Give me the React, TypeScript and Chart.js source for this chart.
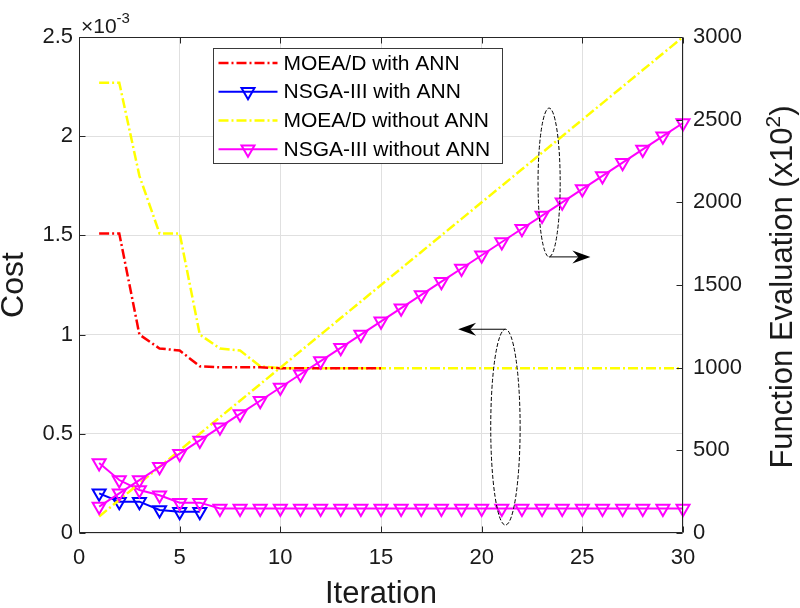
import React, { useEffect, useRef } from "react";
import { Chart, registerables } from "chart.js";

Chart.register(...registerables);

// ---------------- data ----------------
const iterations = [
  1, 2, 3, 4, 5, 6, 7, 8, 9, 10, 11, 12, 13, 14, 15,
  16, 17, 18, 19, 20, 21, 22, 23, 24, 25, 26, 27, 28, 29, 30,
];

const seriesLabels = [
  "MOEA/D with ANN",
  "NSGA-III with ANN",
  "MOEA/D without ANN",
  "NSGA-III without ANN",
];

// Cost values in units of ×10^-3 (left axis)
const costMoeadWithAnn = [
  1.51, 1.51, 1.0, 0.93, 0.92, 0.84, 0.835, 0.835, 0.835, 0.83, 0.83, 0.83, 0.83, 0.83, 0.83,
];
const costNsgaWithAnn = [0.2, 0.158, 0.158, 0.116, 0.107, 0.107];
const costMoeadWithoutAnn = [
  2.27, 2.27, 1.8, 1.51, 1.51, 1.0, 0.93, 0.92, 0.84, 0.83,
  0.83, 0.83, 0.83, 0.83, 0.83, 0.83, 0.83, 0.83, 0.83, 0.83,
  0.83, 0.83, 0.83, 0.83, 0.83, 0.83, 0.83, 0.83, 0.83, 0.83,
];
const costNsgaWithoutAnn = [
  0.353, 0.267, 0.217, 0.19, 0.153, 0.153, 0.124, 0.124, 0.124, 0.124,
  0.124, 0.124, 0.124, 0.124, 0.124, 0.124, 0.124, 0.124, 0.124, 0.124,
  0.124, 0.124, 0.124, 0.124, 0.124, 0.124, 0.124, 0.124, 0.124, 0.124,
];

// Function evaluations in units of ×10^2 (right axis)
const feMoeadWithoutAnn = [
  100, 200, 300, 400, 500, 600, 700, 800, 900, 1000,
  1100, 1200, 1300, 1400, 1500, 1600, 1700, 1800, 1900, 2000,
  2100, 2200, 2300, 2400, 2500, 2600, 2700, 2800, 2900, 3000,
];
const feNsgaWithoutAnn = [
  160, 240, 320, 400, 480, 560, 640, 720, 800, 880,
  960, 1040, 1120, 1200, 1280, 1360, 1440, 1520, 1600, 1680,
  1760, 1840, 1920, 2000, 2080, 2160, 2240, 2320, 2400, 2480,
];

const xTickValues = [0, 5, 10, 15, 20, 25, 30];
const costTickValues = [0, 0.5, 1, 1.5, 2, 2.5];
const feTickValues = [0, 500, 1000, 1500, 2000, 2500, 3000];

const xTitle = "Iteration";
const yTitle = "Cost";
const y2TitleParts = ["Function Evaluation (x10", "2", ")"];
const exponentParts = ["\u00d710", "-3"];

// annotation ellipses (data coordinates)
const annotations = [
  { axis: "y2", x: 23.35, halfWidth: 0.55, yTop: 2570, yBottom: 1670, arrowFrom: "bottom", arrowToX: 25.4 },
  { axis: "y", x: 21.18, halfWidth: 0.73, yTop: 1.027, yBottom: 0.04, arrowFrom: "top", arrowToX: 18.83 },
];

// ---------------- styles ----------------
const FONT = "'Liberation Sans', Arial, Helvetica, sans-serif";
const TEXT = "#1a1a1a";
const AXIS = "#262626";
const GRID = "#e0e0e0";
const RED = "#ff0000";
const BLUE = "#0000ff";
const YELLOW = "#ffff00";
const MAGENTA = "#ff00ff";
const DASH_DOT = [10, 3, 2, 3];

const pts = (vals: number[]) => vals.map((v, i) => ({ x: iterations[i], y: v }));

const triangleOpts = (color: string) => ({
  pointStyle: "triangle",
  pointRotation: 180,
  pointRadius: 7.5,
  pointHoverRadius: 7.5,
  pointBorderColor: color,
  pointBorderWidth: 2,
  pointBackgroundColor: "rgba(0,0,0,0)",
});

function drawTriangleDown(ctx: CanvasRenderingContext2D, x: number, y: number, r: number) {
  ctx.beginPath();
  for (let k = 0; k < 3; k++) {
    const a = Math.PI + (k * 2 * Math.PI) / 3;
    const px = x + Math.sin(a) * r;
    const py = y - Math.cos(a) * r;
    if (k === 0) ctx.moveTo(px, py);
    else ctx.lineTo(px, py);
  }
  ctx.closePath();
  ctx.stroke();
}

const decorPlugin = {
  id: "matlabDecor",
  afterDatasetsDraw(chart: any) {
    const ctx: CanvasRenderingContext2D = chart.ctx;
    const xs = chart.scales.x;
    for (const a of annotations) {
      const ys = chart.scales[a.axis];
      const cx = xs.getPixelForValue(a.x);
      const rx = xs.getPixelForValue(a.x + a.halfWidth) - cx;
      const yT = ys.getPixelForValue(a.yTop);
      const yB = ys.getPixelForValue(a.yBottom);
      const cy = (yT + yB) / 2;
      const ry = (yB - yT) / 2;
      ctx.save();
      ctx.strokeStyle = "#000";
      ctx.lineWidth = 1;
      ctx.setLineDash([4, 2]);
      ctx.beginPath();
      ctx.ellipse(cx, cy, rx, ry, 0, 0, Math.PI * 2);
      ctx.stroke();
      ctx.setLineDash([]);
      const ay = a.arrowFrom === "top" ? yT : yB;
      const ax2 = xs.getPixelForValue(a.arrowToX);
      const dir = Math.sign(ax2 - cx);
      ctx.beginPath();
      ctx.moveTo(cx, ay);
      ctx.lineTo(ax2 - dir * 8, ay);
      ctx.stroke();
      const L = 18, W = 6.5, notch = 12;
      ctx.fillStyle = "#000";
      ctx.beginPath();
      ctx.moveTo(ax2, ay);
      ctx.lineTo(ax2 - dir * L, ay - W);
      ctx.lineTo(ax2 - dir * notch, ay);
      ctx.lineTo(ax2 - dir * L, ay + W);
      ctx.closePath();
      ctx.fill();
      ctx.restore();
    }
  },
  afterDraw(chart: any) {
    const ctx: CanvasRenderingContext2D = chart.ctx;
    const { left, right, top, bottom } = chart.chartArea;
    const xs = chart.scales.x;
    const yl = chart.scales.y;
    const yr = chart.scales.y2;
    ctx.save();
    // box
    ctx.strokeStyle = AXIS;
    ctx.lineWidth = 1;
    const L0 = Math.round(left) + 0.5, R0 = Math.round(right) - 0.5;
    const T0 = Math.round(top) + 0.5, B0 = Math.round(bottom) - 0.5;
    ctx.beginPath();
    ctx.rect(L0, T0, R0 - L0, B0 - T0);
    ctx.stroke();
    // inward ticks
    const tl = 6;
    ctx.beginPath();
    xs.ticks.forEach((t: any) => {
      const p = Math.round(xs.getPixelForValue(t.value)) + 0.5;
      ctx.moveTo(p, B0); ctx.lineTo(p, B0 - tl);
      ctx.moveTo(p, T0); ctx.lineTo(p, T0 + tl);
    });
    yl.ticks.forEach((t: any) => {
      const p = Math.round(yl.getPixelForValue(t.value)) + 0.5;
      ctx.moveTo(L0, p); ctx.lineTo(L0 + tl, p);
    });
    yr.ticks.forEach((t: any) => {
      const p = Math.round(yr.getPixelForValue(t.value)) + 0.5;
      ctx.moveTo(R0, p); ctx.lineTo(R0 - tl, p);
    });
    ctx.stroke();

    // legend
    const items = chart.data.datasets.filter((d: any) => d.inLegend);
    const bx = Math.round(left + 134) + 0.5, by = Math.round(top + 11) + 0.5;
    const bw = 289, bh = 115;
    ctx.fillStyle = "#ffffff";
    ctx.fillRect(bx, by, bw, bh);
    ctx.strokeStyle = "#3a3a3a";
    ctx.lineWidth = 1;
    ctx.strokeRect(bx, by, bw, bh);
    const rowH = bh / items.length;
    items.forEach((d: any, i: number) => {
      const cy = by + rowH * (i + 0.5);
      const x1 = bx + 5, x2 = bx + 64;
      ctx.strokeStyle = d.borderColor;
      ctx.lineWidth = d.borderWidth;
      ctx.setLineDash(d.borderDash || []);
      ctx.beginPath();
      ctx.moveTo(x1, cy);
      ctx.lineTo(x2, cy);
      ctx.stroke();
      ctx.setLineDash([]);
      if (d.pointRadius > 0) {
        ctx.lineWidth = d.pointBorderWidth;
        ctx.strokeStyle = d.pointBorderColor;
        drawTriangleDown(ctx, (x1 + x2) / 2, cy, d.pointRadius);
      }
      ctx.fillStyle = "#000";
      ctx.font = `21px ${FONT}`;
      ctx.textBaseline = "middle";
      ctx.textAlign = "left";
      ctx.fillText(d.label, bx + 70, cy + 1);
    });

    // exponent label
    ctx.fillStyle = TEXT;
    ctx.textBaseline = "alphabetic";
    ctx.textAlign = "left";
    ctx.font = `21px ${FONT}`;
    const ex = left + 2;
    ctx.fillText(exponentParts[0], ex, top - 4);
    const ew = ctx.measureText(exponentParts[0]).width;
    ctx.font = `15px ${FONT}`;
    ctx.fillText(exponentParts[1], ex + ew, top - 14);

    // right axis title, reading upward
    ctx.save();
    ctx.translate(right + 109, (top + bottom) / 2 + 2);
    ctx.rotate(-Math.PI / 2);
    ctx.fillStyle = TEXT;
    const mainFont = `31px ${FONT}`;
    const supFont = `21px ${FONT}`;
    ctx.font = mainFont;
    const w0 = ctx.measureText(y2TitleParts[0]).width;
    const w2 = ctx.measureText(y2TitleParts[2]).width;
    ctx.font = supFont;
    const w1 = ctx.measureText(y2TitleParts[1]).width;
    const total = w0 + w1 + w2;
    let xx = -total / 2;
    ctx.font = mainFont;
    ctx.fillText(y2TitleParts[0], xx, 0);
    xx += w0;
    ctx.font = supFont;
    ctx.fillText(y2TitleParts[1], xx, -12);
    xx += w1;
    ctx.font = mainFont;
    ctx.fillText(y2TitleParts[2], xx, 0);
    ctx.restore();

    ctx.restore();
  },
};

export default function App() {
  const canvasRef = useRef<HTMLCanvasElement | null>(null);

  useEffect(() => {
    if (!canvasRef.current) return;
    const tickFont = { family: FONT, size: 22 };
    const chart = new Chart(canvasRef.current, {
      type: "line",
      data: {
        datasets: [
          {
            label: seriesLabels[0],
            inLegend: true,
            data: pts(costMoeadWithAnn),
            yAxisID: "y",
            borderColor: RED,
            borderWidth: 2.5,
            borderDash: DASH_DOT,
            pointRadius: 0,
            fill: false,
            tension: 0,
            clip: false,
            order: 5,
          },
          {
            label: seriesLabels[1],
            inLegend: true,
            data: pts(costNsgaWithAnn),
            yAxisID: "y",
            borderColor: BLUE,
            borderWidth: 2,
            ...triangleOpts(BLUE),
            fill: false,
            tension: 0,
            clip: false,
            order: 4,
          },
          {
            label: seriesLabels[2],
            inLegend: true,
            data: pts(costMoeadWithoutAnn),
            yAxisID: "y",
            borderColor: YELLOW,
            borderWidth: 2.5,
            borderDash: DASH_DOT,
            pointRadius: 0,
            fill: false,
            tension: 0,
            clip: false,
            order: 6,
          },
          {
            label: seriesLabels[3],
            inLegend: true,
            data: pts(costNsgaWithoutAnn),
            yAxisID: "y",
            borderColor: MAGENTA,
            borderWidth: 2,
            ...triangleOpts(MAGENTA),
            fill: false,
            tension: 0,
            clip: false,
            order: 3,
          },
          {
            label: seriesLabels[2] + " (FE)",
            inLegend: false,
            data: pts(feMoeadWithoutAnn),
            yAxisID: "y2",
            borderColor: YELLOW,
            borderWidth: 2.5,
            borderDash: DASH_DOT,
            pointRadius: 0,
            fill: false,
            tension: 0,
            clip: false,
            order: 2,
          },
          {
            label: seriesLabels[3] + " (FE)",
            inLegend: false,
            data: pts(feNsgaWithoutAnn),
            yAxisID: "y2",
            borderColor: MAGENTA,
            borderWidth: 2,
            ...triangleOpts(MAGENTA),
            fill: false,
            tension: 0,
            clip: false,
            order: 1,
          },
        ] as any,
      },
      options: {
        animation: false,
        responsive: true,
        maintainAspectRatio: false,
        events: [],
        layout: { padding: { top: 37, left: 0, right: 0, bottom: 0 } },
        plugins: {
          legend: { display: false },
          tooltip: { enabled: false },
        },
        scales: {
          x: {
            type: "linear",
            position: "bottom",
            min: 0,
            max: 30,
            afterBuildTicks: (s: any) => {
              s.ticks = xTickValues.map((v) => ({ value: v }));
            },
            afterFit: (s: any) => {
              s.height = 75;
            },
            ticks: {
              font: tickFont,
              color: TEXT,
              padding: 12,
              maxRotation: 0,
              autoSkip: false,
              callback: (v: any) => String(v),
            },
            grid: { color: GRID, lineWidth: 1, drawTicks: false },
            border: { display: false },
            title: {
              display: true,
              text: xTitle,
              color: TEXT,
              font: { family: FONT, size: 31, lineHeight: 0.86 },
              padding: { top: 0, bottom: 0 },
            },
          },
          y: {
            type: "linear",
            position: "left",
            min: 0,
            max: 2.5,
            afterBuildTicks: (s: any) => {
              s.ticks = costTickValues.map((v) => ({ value: v }));
            },
            afterFit: (s: any) => {
              s.width = 79;
            },
            ticks: {
              font: tickFont,
              color: TEXT,
              padding: 6,
              autoSkip: false,
              callback: (v: any) => String(v),
            },
            grid: { color: GRID, lineWidth: 1, drawTicks: false },
            border: { display: false },
            title: {
              display: true,
              text: yTitle,
              color: TEXT,
              font: { family: FONT, size: 32, lineHeight: 0.86 },
              padding: { top: 0, bottom: 0 },
            },
          },
          y2: {
            type: "linear",
            position: "right",
            min: 0,
            max: 3000,
            afterBuildTicks: (s: any) => {
              s.ticks = feTickValues.map((v) => ({ value: v }));
            },
            afterFit: (s: any) => {
              s.width = 117;
            },
            ticks: {
              font: tickFont,
              color: TEXT,
              padding: 10,
              autoSkip: false,
              callback: (v: any) => String(v),
            },
            grid: { display: false, drawOnChartArea: false, drawTicks: false },
            border: { display: false },
          },
        },
      } as any,
      plugins: [decorPlugin as any],
    });
    return () => chart.destroy();
  }, []);

  return (
    <div style={{ position: "absolute", left: 0, top: 0, width: 800, height: 608, background: "#fff" }}>
      <canvas ref={canvasRef} />
    </div>
  );
}
